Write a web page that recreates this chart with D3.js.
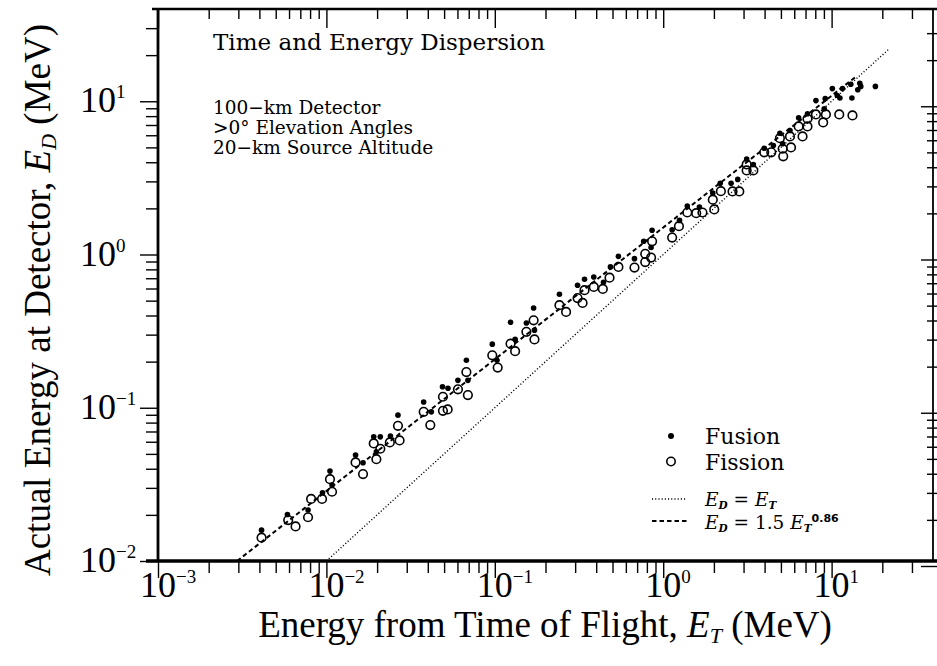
<!DOCTYPE html>
<html><head><meta charset="utf-8">
<script src="https://cdn.jsdelivr.net/npm/d3@7"></script>
<style>body{margin:0;background:#fff}svg{display:block;background:#fff}</style>
</head><body>
<svg id="c" width="937" height="666"></svg>
<script>
// ---------------- data ----------------
const fusionET=[0.00412,0.00587,0.00778,0.00948,0.0105,0.0108,0.0149,0.0165,0.0191,0.0209,
0.0198,0.0240,0.0266,0.0378,0.0420,0.0489,0.0527,0.0604,0.0678,0.0692,
0.0966,0.103,0.124,0.132,0.154,0.170,0.172,0.242,0.310,0.341,
0.387,0.442,0.486,0.542,0.675,0.766,0.859,0.847,1.13,1.25,
1.39,1.64,1.97,2.18,2.53,2.77,3.13,3.43,3.98,4.51,
4.93,5.12,5.66,6.37,7.19,8.07,9.16,9.04,10.1,10.8,
11.2,11.6,13.0,13.2,14.3,14.7,14.9,18.2];
const fusionED=[0.0159,0.0201,0.0215,0.0279,0.0386,0.0313,0.0491,0.0438,0.0646,0.0646,
0.0516,0.0653,0.0895,0.109,0.0940,0.137,0.134,0.151,0.204,0.151,
0.260,0.204,0.361,0.280,0.357,0.448,0.321,0.551,0.630,0.689,
0.713,0.659,0.830,0.973,0.940,1.22,1.44,1.11,1.45,1.67,
2.07,2.04,2.52,2.92,2.92,3.09,4.20,3.87,4.94,5.15,
6.19,5.28,6.45,7.80,8.29,10.1,10.4,8.93,12.1,10.9,
10.5,12.1,12.9,10.5,11.9,13.1,12.5,12.5];
const fissionET=[0.00412,0.00593,0.00656,0.00778,0.00811,0.00942,0.0105,0.0108,0.0149,0.0165,
0.0191,0.0209,0.0198,0.0238,0.0266,0.0272,0.0378,0.0414,0.0492,0.0492,
0.0525,0.0604,0.0678,0.0692,0.0966,0.104,0.124,0.132,0.154,0.170,
0.172,0.242,0.265,0.310,0.332,0.341,0.387,0.438,0.480,0.542,
0.675,0.782,0.782,0.847,0.859,1.13,1.24,1.39,1.57,1.71,
2.01,1.97,2.20,2.58,2.83,3.13,3.13,3.43,3.98,4.38,
4.93,5.12,5.16,5.66,5.74,6.37,6.72,7.19,7.19,8.07,
8.91,9.25,11.1,13.3];
const fissionED=[0.0142,0.0185,0.0168,0.0193,0.0254,0.0254,0.0342,0.0283,0.0440,0.0369,
0.0585,0.0540,0.0462,0.0594,0.0762,0.0612,0.0940,0.0771,0.118,0.0955,
0.0975,0.132,0.171,0.121,0.220,0.183,0.262,0.234,0.313,0.372,
0.279,0.467,0.422,0.520,0.483,0.585,0.614,0.596,0.706,0.830,
0.822,0.893,1.01,0.955,1.22,1.29,1.53,1.88,1.86,1.88,
1.97,2.28,2.59,2.58,2.58,3.87,3.54,3.54,4.64,4.64,
5.74,4.90,4.37,5.90,5.00,6.85,5.90,6.85,7.69,8.20,
7.28,8.20,8.20,8.08];
const fitCoef=1.5, fitExp=0.86;
const fitRange=[0.00295,14];
const unityRange=[0.01,22];
const xDomain=[1e-3,40];
const yDomain=[1e-2,40];
const xDecades=[-3,-2,-1,0,1];
const yDecades=[-2,-1,0,1];
const titleText="Time and Energy Dispersion";
const infoLines=["100\u2212km Detector",">0\u00b0 Elevation Angles","20\u2212km Source Altitude"];
const legendNames=["Fusion","Fission"];

// ---------------- chart ----------------
const svg=d3.select("#c");
const x=d3.scaleLog().domain(xDomain).range([158,933]);
const y=d3.scaleLog().domain(yDomain).range([561,9]);
const lblFont="'Liberation Serif', 'Times New Roman', serif";
const inFont="'DejaVu Serif', serif";

function minors(lo,hi,max){const t=[];for(let d=lo;d<=hi;d++)for(let m=2;m<=9;m++){const v=m*Math.pow(10,d);if(v<max*0.99)t.push(v);}return t;}
const xMinor=minors(-3,1,xDomain[1]), yMinor=minors(-2,1,yDomain[1]);
const xMajor=xDecades.map(d=>Math.pow(10,d)), yMajor=yDecades.map(d=>Math.pow(10,d));

function axisG(axis,tr,fix){
  const g=svg.append("g").attr("transform",tr).call(axis);
  g.select(".domain").remove();
  g.selectAll("line").attr("stroke","#000").attr("stroke-width",1.4);
  if(fix)fix(g);
  return g;
}
// bottom
axisG(d3.axisBottom(x).tickValues(xMinor).tickSize(12).tickFormat(""),"translate(0,561)");
axisG(d3.axisBottom(x).tickValues(xMajor).tickSize(17).tickFormat(""),"translate(0,561)");
// top (inward)
axisG(d3.axisTop(x).tickValues(xMinor).tickSize(-10).tickFormat(""),"translate(0,9)");
axisG(d3.axisTop(x).tickValues(xMajor).tickSize(-19).tickFormat(""),"translate(0,9)");
// left
axisG(d3.axisLeft(y).tickValues(yMinor).tickSize(12).tickFormat(""),"translate(158,0)");
axisG(d3.axisLeft(y).tickValues(yMajor).tickSize(18).tickFormat(""),"translate(158,0)");
// right (straddling, slightly offset as in the scan)
axisG(d3.axisRight(y).tickValues(yMinor).tickSize(5).tickFormat(""),"translate(933,5)",g=>g.selectAll("line").attr("x1",-6));
axisG(d3.axisRight(y).tickValues(yMajor).tickSize(6).tickFormat(""),"translate(933,5)",g=>g.selectAll("line").attr("x1",-12));

// frame
const fr=svg.append("g").attr("stroke","#000").attr("fill","none");
fr.append("line").attr("x1",146).attr("x2",937).attr("y1",y(yDomain[0])).attr("y2",y(yDomain[0])).attr("stroke-width",3.4);
fr.append("line").attr("x1",152).attr("x2",937).attr("y1",y(yDomain[1])).attr("y2",y(yDomain[1])).attr("stroke-width",2.6);
fr.append("line").attr("x1",x(xDomain[0])).attr("x2",x(xDomain[0])).attr("y1",y(yDomain[1])-1).attr("y2",y(yDomain[0])+1).attr("stroke-width",2.8);
fr.append("line").attr("x1",x(xDomain[1])).attr("x2",x(xDomain[1])).attr("y1",y(yDomain[1])).attr("y2",y(yDomain[0])).attr("stroke-width",1.8);

// tick labels
xDecades.forEach(d=>{
  const t=svg.append("text").attr("x",x(Math.pow(10,d))-18).attr("y",597)
    .attr("font-family",lblFont).attr("font-size",36).attr("fill","#000");
  t.append("tspan").text("10");
  t.append("tspan").attr("dy",-14).attr("font-size",19).text(d<0?"\u2212"+(-d):String(d));
});
yDecades.forEach(d=>{
  const t=svg.append("text").attr("x",80).attr("y",y(Math.pow(10,d))+11)
    .attr("font-family",lblFont).attr("font-size",36).attr("fill","#000");
  t.append("tspan").text("10");
  t.append("tspan").attr("dy",-14).attr("font-size",19).text(d<0?"\u2212"+(-d):String(d));
});

// axis titles
const xt=svg.append("text").attr("x",545).attr("y",637).attr("text-anchor","middle")
  .attr("font-family",lblFont).attr("font-size",37).attr("fill","#000");
xt.append("tspan").text("Energy from Time of Flight, ");
xt.append("tspan").attr("font-style","italic").text("E");
xt.append("tspan").attr("font-style","italic").attr("font-size",22).attr("dy",6).text("T");
xt.append("tspan").attr("dy",-6).text(" (MeV)");
const yt=svg.append("text").attr("transform","translate(50,300) rotate(-90)").attr("text-anchor","middle")
  .attr("font-family",lblFont).attr("font-size",37).attr("fill","#000");
yt.append("tspan").text("Actual Energy at Detector, ");
yt.append("tspan").attr("font-style","italic").text("E");
yt.append("tspan").attr("font-style","italic").attr("font-size",22).attr("dy",6).text("D");
yt.append("tspan").attr("dy",-6).text(" (MeV)");

// in-plot texts
svg.append("text").attr("x",213).attr("y",50).attr("font-family",inFont).attr("font-size",23).attr("fill","#000").text(titleText);
svg.append("g").selectAll("text").data(infoLines).join("text")
  .attr("x",213).attr("y",(d,i)=>114+i*20).attr("font-family",inFont).attr("font-size",18.5).attr("fill","#000").text(d=>d);

// reference lines
const line=d3.line().x(d=>x(d[0])).y(d=>y(d[1]));
const fitPts=fitRange.map(e=>[e,fitCoef*Math.pow(e,fitExp)]);
const unityPts=unityRange.map(e=>[e,e]);
svg.append("path").attr("d",line(unityPts)).attr("fill","none").attr("stroke","#000").attr("stroke-width",1.4).attr("stroke-dasharray","1.1,2.1");
svg.append("path").attr("d",line(fitPts)).attr("fill","none").attr("stroke","#000").attr("stroke-width",2).attr("stroke-dasharray","4.5,3");

// points
const fission=fissionET.map((e,i)=>[e,fissionED[i]]);
const fusion=fusionET.map((e,i)=>[e,fusionED[i]]);
svg.append("g").selectAll("circle").data(fission).join("circle")
  .attr("cx",d=>x(d[0])).attr("cy",d=>y(d[1])).attr("r",4.3)
  .attr("fill","none").attr("stroke","#000").attr("stroke-width",1.6);
svg.append("g").selectAll("circle").data(fusion).join("circle")
  .attr("cx",d=>x(d[0])).attr("cy",d=>y(d[1])).attr("r",2.8).attr("fill","#000");

// legend
const lg=svg.append("g").attr("font-family",inFont).attr("fill","#000");
lg.append("circle").attr("cx",671).attr("cy",436).attr("r",3).attr("fill","#000");
lg.append("circle").attr("cx",671).attr("cy",461.5).attr("r",4.2).attr("fill","none").attr("stroke","#000").attr("stroke-width",1.6);
lg.append("text").attr("x",705).attr("y",444).attr("font-size",22).text(legendNames[0]);
lg.append("text").attr("x",705).attr("y",469.5).attr("font-size",22).text(legendNames[1]);
lg.append("line").attr("x1",652).attr("x2",687).attr("y1",499).attr("y2",499).attr("stroke","#000").attr("stroke-width",1.4).attr("stroke-dasharray","1.1,2.1");
lg.append("line").attr("x1",652).attr("x2",687).attr("y1",521).attr("y2",521).attr("stroke","#000").attr("stroke-width",2).attr("stroke-dasharray","4.5,3");
function eqText(yb,parts){
  const t=lg.append("text").attr("x",705).attr("y",yb).attr("font-size",18.5);
  parts.forEach(p=>{
    const s=t.append("tspan").text(p.t);
    if(p.it)s.attr("font-style","italic");
    if(p.sub)s.attr("font-weight","bold").attr("font-size",10.5).attr("dy",3);
    if(p.back)s.attr("dy",-3);
    if(p.sup)s.attr("font-family","'DejaVu Sans', sans-serif").attr("font-weight","bold").attr("font-size",11).attr("dy",-10);
  });
}
eqText(506,[{t:"E",it:1},{t:"D",it:1,sub:1},{t:" = ",back:1},{t:"E",it:1},{t:"T",it:1,sub:1}]);
eqText(529,[{t:"E",it:1},{t:"D",it:1,sub:1},{t:" = 1.5 ",back:1},{t:"E",it:1},{t:"T",it:1,sub:1},{t:String(fitExp),sup:1}]);
</script>
</body></html>
